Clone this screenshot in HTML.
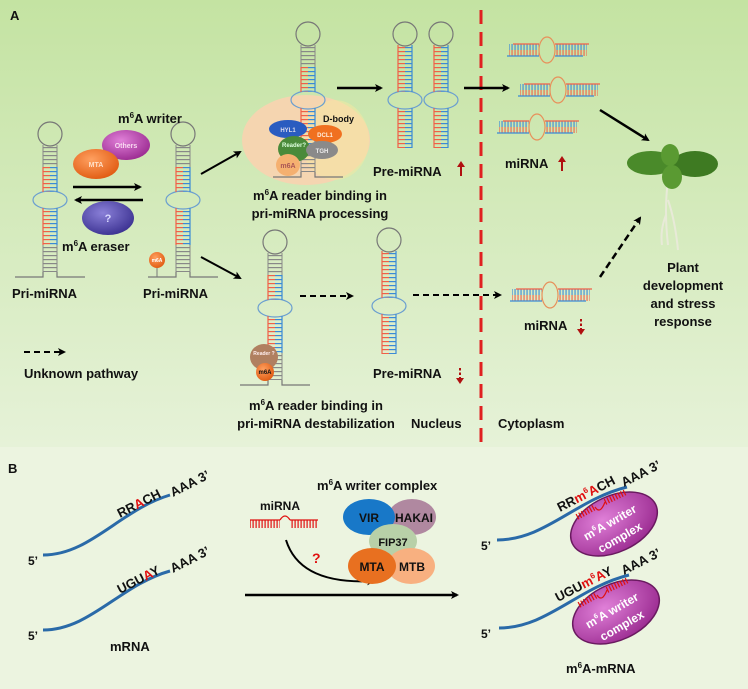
<!DOCTYPE html>
<html><head><meta charset="utf-8"><style>
html,body{margin:0;padding:0;background:#ecf4e0}
svg{display:block}
text{font-family:"Liberation Sans",Arial,sans-serif;font-weight:bold;fill:#111}
</style></head><body>
<svg width="748" height="689" viewBox="0 0 748 689" xmlns="http://www.w3.org/2000/svg">
<defs>
<linearGradient id="bgA" x1="0" y1="0" x2="0" y2="1">
<stop offset="0" stop-color="#c4e3a2"/><stop offset="1" stop-color="#e6f2d8"/></linearGradient>
<pattern id="rg" width="20" height="4" patternUnits="userSpaceOnUse"><rect x="0" y="1" width="20" height="1.2" fill="#888"/></pattern>
<pattern id="rc" width="14" height="4" patternUnits="userSpaceOnUse" x="-7"><rect x="0" y="1" width="7" height="1.2" fill="#f06048"/><rect x="7" y="1" width="7" height="1.2" fill="#3a8ad6"/></pattern>
<pattern id="rv" width="3" height="12" patternUnits="userSpaceOnUse"><rect x="0.5" y="0" width="1.1" height="6" fill="#f06048"/><rect x="0.5" y="6" width="1.1" height="6" fill="#3a8ad6"/></pattern>
<pattern id="rr" width="3" height="8" patternUnits="userSpaceOnUse"><rect x="0.5" y="0" width="1.2" height="8" fill="#e01010"/></pattern>
<marker id="ah" markerWidth="8" markerHeight="8" refX="6" refY="4" orient="auto" markerUnits="userSpaceOnUse"><path d="M0,0 L8,4 L0,8 L2,4z" fill="#000"/></marker>
<radialGradient id="gOr" cx="0.4" cy="0.35" r="0.7"><stop offset="0" stop-color="#ffa060"/><stop offset="1" stop-color="#e05a10"/></radialGradient>
<radialGradient id="gPu" cx="0.4" cy="0.35" r="0.7"><stop offset="0" stop-color="#e080d8"/><stop offset="1" stop-color="#9a2a90"/></radialGradient>
<radialGradient id="gIn" cx="0.4" cy="0.35" r="0.7"><stop offset="0" stop-color="#8a80d8"/><stop offset="1" stop-color="#3a3090"/></radialGradient>
<g id="hp">
<circle cx="0" cy="12" r="12" fill="none" stroke="#777" stroke-width="1.2"/>
<rect x="-7" y="23" width="14" height="22" fill="url(#rg)"/>
<rect x="-7" y="45" width="14" height="25" fill="url(#rc)"/>
<ellipse cx="0" cy="78" rx="17" ry="9" fill="none" stroke="#6a9ed0" stroke-width="1.2"/>
<rect x="-7" y="88" width="14" height="35" fill="url(#rc)"/>
<rect x="-7" y="123" width="14" height="27" fill="url(#rg)"/>
<path d="M-7 23V45M7 23V45M-7 123V150M7 123V150" stroke="#888" stroke-width="1"/>
<path d="M-7 45V70M-7 86V123" stroke="#f06048" stroke-width="1.2"/>
<path d="M7 45V70M7 86V123" stroke="#3a8ad6" stroke-width="1.2"/>
<path d="M-7 150V155H-35M7 150V155H35" fill="none" stroke="#777" stroke-width="1.2"/>
</g>
<g id="pre">
<circle cx="0" cy="12" r="12" fill="none" stroke="#777" stroke-width="1.2"/>
<rect x="-7" y="23" width="14" height="47" fill="url(#rc)"/>
<ellipse cx="0" cy="78" rx="17" ry="9" fill="none" stroke="#6a9ed0" stroke-width="1.2"/>
<rect x="-7" y="88" width="14" height="38" fill="url(#rc)"/>
<path d="M-7 23V70M-7 86V126" stroke="#f06048" stroke-width="1.2"/>
<path d="M7 23V70M7 86V126" stroke="#3a8ad6" stroke-width="1.2"/>
</g>
<g id="mi">
<rect x="-38" y="-6" width="30" height="12" fill="url(#rv)"/>
<rect x="8" y="-6" width="32" height="12" fill="url(#rv)"/>
<path d="M-34 -6H-8M8 -6H42" stroke="#f06048" stroke-width="1.2"/>
<path d="M-40 6H-8M8 6H36" stroke="#3a8ad6" stroke-width="1.2"/>
<ellipse cx="0" cy="0" rx="8" ry="13" fill="none" stroke="#e8905a" stroke-width="1.2"/>
</g>
</defs>

<rect x="0" y="0" width="748" height="447" fill="url(#bgA)"/>
<rect x="0" y="447" width="748" height="242" fill="#ecf4e0"/>

<text x="10" y="20" font-size="13">A</text>
<text x="8" y="473" font-size="13">B</text>

<use href="#hp" transform="translate(50,122)"/>
<use href="#hp" transform="translate(183,122)"/>
<line x1="157" y1="265" x2="157" y2="277" stroke="#777"/>
<circle cx="157" cy="260" r="8" fill="url(#gOr)"/>
<text x="157" y="262" font-size="5" text-anchor="middle" style="fill:#fff">m6A</text>
<text x="118" y="123" font-size="13">m<tspan font-size="8" dy="-5">6</tspan><tspan dy="5">A writer</tspan></text>
<ellipse cx="126" cy="145" rx="24" ry="15" fill="url(#gPu)"/>
<text x="126" y="148" font-size="7" text-anchor="middle" style="fill:#f8d8f0">Others</text>
<ellipse cx="96" cy="164" rx="23" ry="15" fill="url(#gOr)"/>
<text x="96" y="167" font-size="7" text-anchor="middle" style="fill:#ffe0c8">MTA</text>
<line x1="73" y1="187" x2="140" y2="187" stroke="#000" stroke-width="2.5" marker-end="url(#ah)"/>
<line x1="143" y1="200" x2="76" y2="200" stroke="#000" stroke-width="2.5" marker-end="url(#ah)"/>
<ellipse cx="108" cy="218" rx="26" ry="17" fill="url(#gIn)"/>
<text x="108" y="222" font-size="11" text-anchor="middle" style="fill:#d8d8ff">?</text>
<text x="62" y="251" font-size="13">m<tspan font-size="8" dy="-5">6</tspan><tspan dy="5">A eraser</tspan></text>
<text x="12" y="298" font-size="13">Pri-miRNA</text>
<text x="143" y="298" font-size="13">Pri-miRNA</text>
<line x1="201" y1="174" x2="240" y2="152" stroke="#000" stroke-width="2" marker-end="url(#ah)"/>
<line x1="201" y1="257" x2="240" y2="278" stroke="#000" stroke-width="2" marker-end="url(#ah)"/>

<ellipse cx="306" cy="140" rx="64" ry="45" fill="#f7d4b0" opacity="0.95"/>
<ellipse cx="335" cy="140" rx="34" ry="40" fill="#f5e8a0" opacity="0.5"/>
<use href="#hp" transform="translate(308,22)"/>
<text x="323" y="122" font-size="9">D-body</text>
<ellipse cx="288" cy="129" rx="19" ry="9" fill="#2a5cc0"/>
<text x="288" y="132" font-size="6" text-anchor="middle" style="fill:#dde">HYL1</text>
<ellipse cx="325" cy="134" rx="17" ry="9" fill="#f07020"/>
<text x="325" y="137" font-size="6" text-anchor="middle" style="fill:#fed">DCL1</text>
<ellipse cx="294" cy="149" rx="16" ry="13" fill="#4a8a3a"/>
<text x="294" y="147" font-size="6" text-anchor="middle" style="fill:#dfd">Reader?</text>
<ellipse cx="322" cy="150" rx="16" ry="9" fill="#8a8a8a"/>
<text x="322" y="153" font-size="6" text-anchor="middle" style="fill:#eee">TGH</text>
<ellipse cx="288" cy="165" rx="12" ry="11" fill="#f5b070"/>
<text x="288" y="168" font-size="7" text-anchor="middle" style="fill:#a55">m6A</text>
<text x="320" y="200" font-size="13" text-anchor="middle">m<tspan font-size="8" dy="-5">6</tspan><tspan dy="5">A reader binding in</tspan></text>
<text x="320" y="218" font-size="13" text-anchor="middle">pri-miRNA processing</text>
<line x1="337" y1="88" x2="381" y2="88" stroke="#000" stroke-width="2.5" marker-end="url(#ah)"/>
<use href="#pre" transform="translate(405,22)"/>
<use href="#pre" transform="translate(441,22)"/>
<text x="373" y="176" font-size="13">Pre-miRNA</text>
<path d="M461 176V165" stroke="#b01010" stroke-width="2"/><path d="M457 167L461 161L465 167z" fill="#b01010"/>

<line x1="481" y1="10" x2="481" y2="445" stroke="#e02020" stroke-width="3" stroke-dasharray="14,8"/>
<line x1="464" y1="88" x2="508" y2="88" stroke="#000" stroke-width="2.5" marker-end="url(#ah)"/>

<use href="#mi" transform="translate(547,50)"/>
<use href="#mi" transform="translate(558,90)"/>
<use href="#mi" transform="translate(537,127)"/>
<text x="505" y="168" font-size="13">miRNA</text>
<path d="M562 171V160" stroke="#b01010" stroke-width="2"/><path d="M558 162L562 156L566 162z" fill="#b01010"/>
<line x1="600" y1="110" x2="648" y2="140" stroke="#000" stroke-width="2.5" marker-end="url(#ah)"/>

<path d="M668 180 Q664 210 668 245 M668 200 Q675 220 678 250 M666 215 Q660 230 662 245" stroke="#e8ead8" stroke-width="2" fill="none"/>
<ellipse cx="651" cy="163" rx="24" ry="12" fill="#4a8a2a"/>
<ellipse cx="695" cy="164" rx="23" ry="13" fill="#3e7a22"/>
<ellipse cx="670" cy="155" rx="9" ry="11" fill="#5a9a32"/>
<ellipse cx="672" cy="177" rx="10" ry="12" fill="#5a9a32"/>
<text x="683" y="272" font-size="13" text-anchor="middle">Plant</text>
<text x="683" y="290" font-size="13" text-anchor="middle">development</text>
<text x="683" y="308" font-size="13" text-anchor="middle">and stress</text>
<text x="683" y="326" font-size="13" text-anchor="middle">response</text>

<use href="#hp" transform="translate(275,230)"/>
<ellipse cx="264" cy="357" rx="14" ry="13" fill="#b08060"/>
<text x="264" y="355" font-size="5" text-anchor="middle" style="fill:#fee">Reader ?</text>
<circle cx="265" cy="372" r="9" fill="url(#gOr)"/>
<text x="265" y="374" font-size="6" text-anchor="middle">m6A</text>
<line x1="300" y1="296" x2="352" y2="296" stroke="#000" stroke-width="2" stroke-dasharray="6,4" marker-end="url(#ah)"/>
<use href="#pre" transform="translate(389,228)"/>
<text x="373" y="378" font-size="13">Pre-miRNA</text>
<path d="M460 368V380" stroke="#b01010" stroke-width="2" stroke-dasharray="2.5,2"/><path d="M456 378L460 384L464 378z" fill="#b01010"/>
<line x1="413" y1="295" x2="500" y2="295" stroke="#000" stroke-width="2" stroke-dasharray="6,4" marker-end="url(#ah)"/>
<use href="#mi" transform="translate(550,295)"/>
<text x="524" y="330" font-size="13">miRNA</text>
<path d="M581 319V331" stroke="#b01010" stroke-width="2" stroke-dasharray="2.5,2"/><path d="M577 329L581 335L585 329z" fill="#b01010"/>
<line x1="600" y1="277" x2="640" y2="218" stroke="#000" stroke-width="2.5" stroke-dasharray="7,4" marker-end="url(#ah)"/>

<line x1="24" y1="352" x2="64" y2="352" stroke="#000" stroke-width="2" stroke-dasharray="6,4" marker-end="url(#ah)"/>
<text x="24" y="378" font-size="13">Unknown pathway</text>
<text x="316" y="410" font-size="13" text-anchor="middle">m<tspan font-size="8" dy="-5">6</tspan><tspan dy="5">A reader binding in</tspan></text>
<text x="316" y="428" font-size="13" text-anchor="middle">pri-miRNA destabilization</text>
<text x="411" y="428" font-size="13">Nucleus</text>
<text x="498" y="428" font-size="13">Cytoplasm</text>

<path d="M43 555 C90 555 120 510 170 495" fill="none" stroke="#2a6aa8" stroke-width="3"/>
<text x="28" y="565" font-size="12">5’</text>
<text transform="translate(120,518) rotate(-27)" font-size="13">RR<tspan style="fill:#e01010">A</tspan>CH</text>
<text transform="translate(173,497) rotate(-27)" font-size="13">AAA 3’</text>
<path d="M43 630 C90 630 120 585 170 571" fill="none" stroke="#2a6aa8" stroke-width="3"/>
<text x="28" y="640" font-size="12">5’</text>
<text transform="translate(120,594) rotate(-27)" font-size="13">UGU<tspan style="fill:#e01010">A</tspan>Y</text>
<text transform="translate(173,573) rotate(-27)" font-size="13">AAA 3’</text>
<text x="110" y="651" font-size="13">mRNA</text>

<text x="317" y="490" font-size="13">m<tspan font-size="8" dy="-5">6</tspan><tspan dy="5">A writer complex</tspan></text>
<text x="260" y="510" font-size="12">miRNA</text>
<rect x="250" y="520" width="30" height="8" fill="url(#rr)"/>
<rect x="290" y="520" width="28" height="8" fill="url(#rr)"/>
<path d="M250 520H280M290 520H318" stroke="#e01010" stroke-width="1.2"/>
<path d="M280 520 Q285 512 290 520" fill="none" stroke="#e01010" stroke-width="1.2"/>
<path d="M286 540 Q300 585 373 581" fill="none" stroke="#000" stroke-width="2" marker-end="url(#ah)"/>
<text x="312" y="563" font-size="14" style="fill:#e01010">?</text>
<ellipse cx="412" cy="517" rx="24" ry="18" fill="#b088a0"/>
<ellipse cx="369" cy="517" rx="26" ry="18" fill="#1878c8"/>
<ellipse cx="393" cy="541" rx="24" ry="17" fill="#b8d0a8"/>
<ellipse cx="411" cy="566" rx="24" ry="18" fill="#f8b080"/>
<ellipse cx="372" cy="566" rx="24" ry="18" fill="#e87020"/>
<text x="369" y="522" font-size="12" text-anchor="middle">VIR</text>
<text x="414" y="522" font-size="12" text-anchor="middle">HAKAI</text>
<text x="393" y="546" font-size="11" text-anchor="middle">FIP37</text>
<text x="372" y="571" font-size="12" text-anchor="middle">MTA</text>
<text x="412" y="571" font-size="12" text-anchor="middle">MTB</text>
<line x1="245" y1="595" x2="457" y2="595" stroke="#000" stroke-width="2.5" marker-end="url(#ah)"/>

<g>
<ellipse cx="614" cy="524" rx="46" ry="28" transform="rotate(-25 614 524)" fill="url(#gPu)" stroke="#6a1a60" stroke-width="1.5"/>
<path d="M497 540 C545 540 575 500 627 487" fill="none" stroke="#2a6aa8" stroke-width="3"/>
<text x="481" y="550" font-size="12">5’</text>
<text transform="translate(560,512) rotate(-27)" font-size="13">RR<tspan style="fill:#e01010">m<tspan font-size="8" dy="-5">6</tspan><tspan dy="5">A</tspan></tspan>CH</text>
<text transform="translate(624,487) rotate(-27)" font-size="13">AAA 3’</text>
<path d="M577 517 L595 507 M605 502 L626 492" stroke="#e01010" stroke-width="6" stroke-dasharray="1.2,1.8"/>
<path d="M595 507 Q600 515 605 502" fill="none" stroke="#e01010" stroke-width="1.2"/>
<text transform="translate(612,526) rotate(-30)" font-size="12" text-anchor="middle" style="fill:#fff">m<tspan font-size="7" dy="-5">6</tspan><tspan dy="5">A writer</tspan></text>
<text transform="translate(622,541) rotate(-30)" font-size="12" text-anchor="middle" style="fill:#fff">complex</text>
</g>
<g transform="translate(2,88)">
<ellipse cx="614" cy="524" rx="46" ry="28" transform="rotate(-25 614 524)" fill="url(#gPu)" stroke="#6a1a60" stroke-width="1.5"/>
<path d="M497 540 C545 540 575 500 627 487" fill="none" stroke="#2a6aa8" stroke-width="3"/>
<text x="479" y="550" font-size="12">5’</text>
<text transform="translate(556,514) rotate(-27)" font-size="13">UGU<tspan style="fill:#e01010">m<tspan font-size="8" dy="-5">6</tspan><tspan dy="5">A</tspan></tspan>Y</text>
<text transform="translate(622,487) rotate(-27)" font-size="13">AAA 3’</text>
<path d="M577 517 L595 507 M605 502 L626 492" stroke="#e01010" stroke-width="6" stroke-dasharray="1.2,1.8"/>
<path d="M595 507 Q600 515 605 502" fill="none" stroke="#e01010" stroke-width="1.2"/>
<text transform="translate(612,526) rotate(-30)" font-size="12" text-anchor="middle" style="fill:#fff">m<tspan font-size="7" dy="-5">6</tspan><tspan dy="5">A writer</tspan></text>
<text transform="translate(622,541) rotate(-30)" font-size="12" text-anchor="middle" style="fill:#fff">complex</text>
</g>
<text x="566" y="673" font-size="13">m<tspan font-size="8" dy="-5">6</tspan><tspan dy="5">A-mRNA</tspan></text>
</svg>
</body></html>
